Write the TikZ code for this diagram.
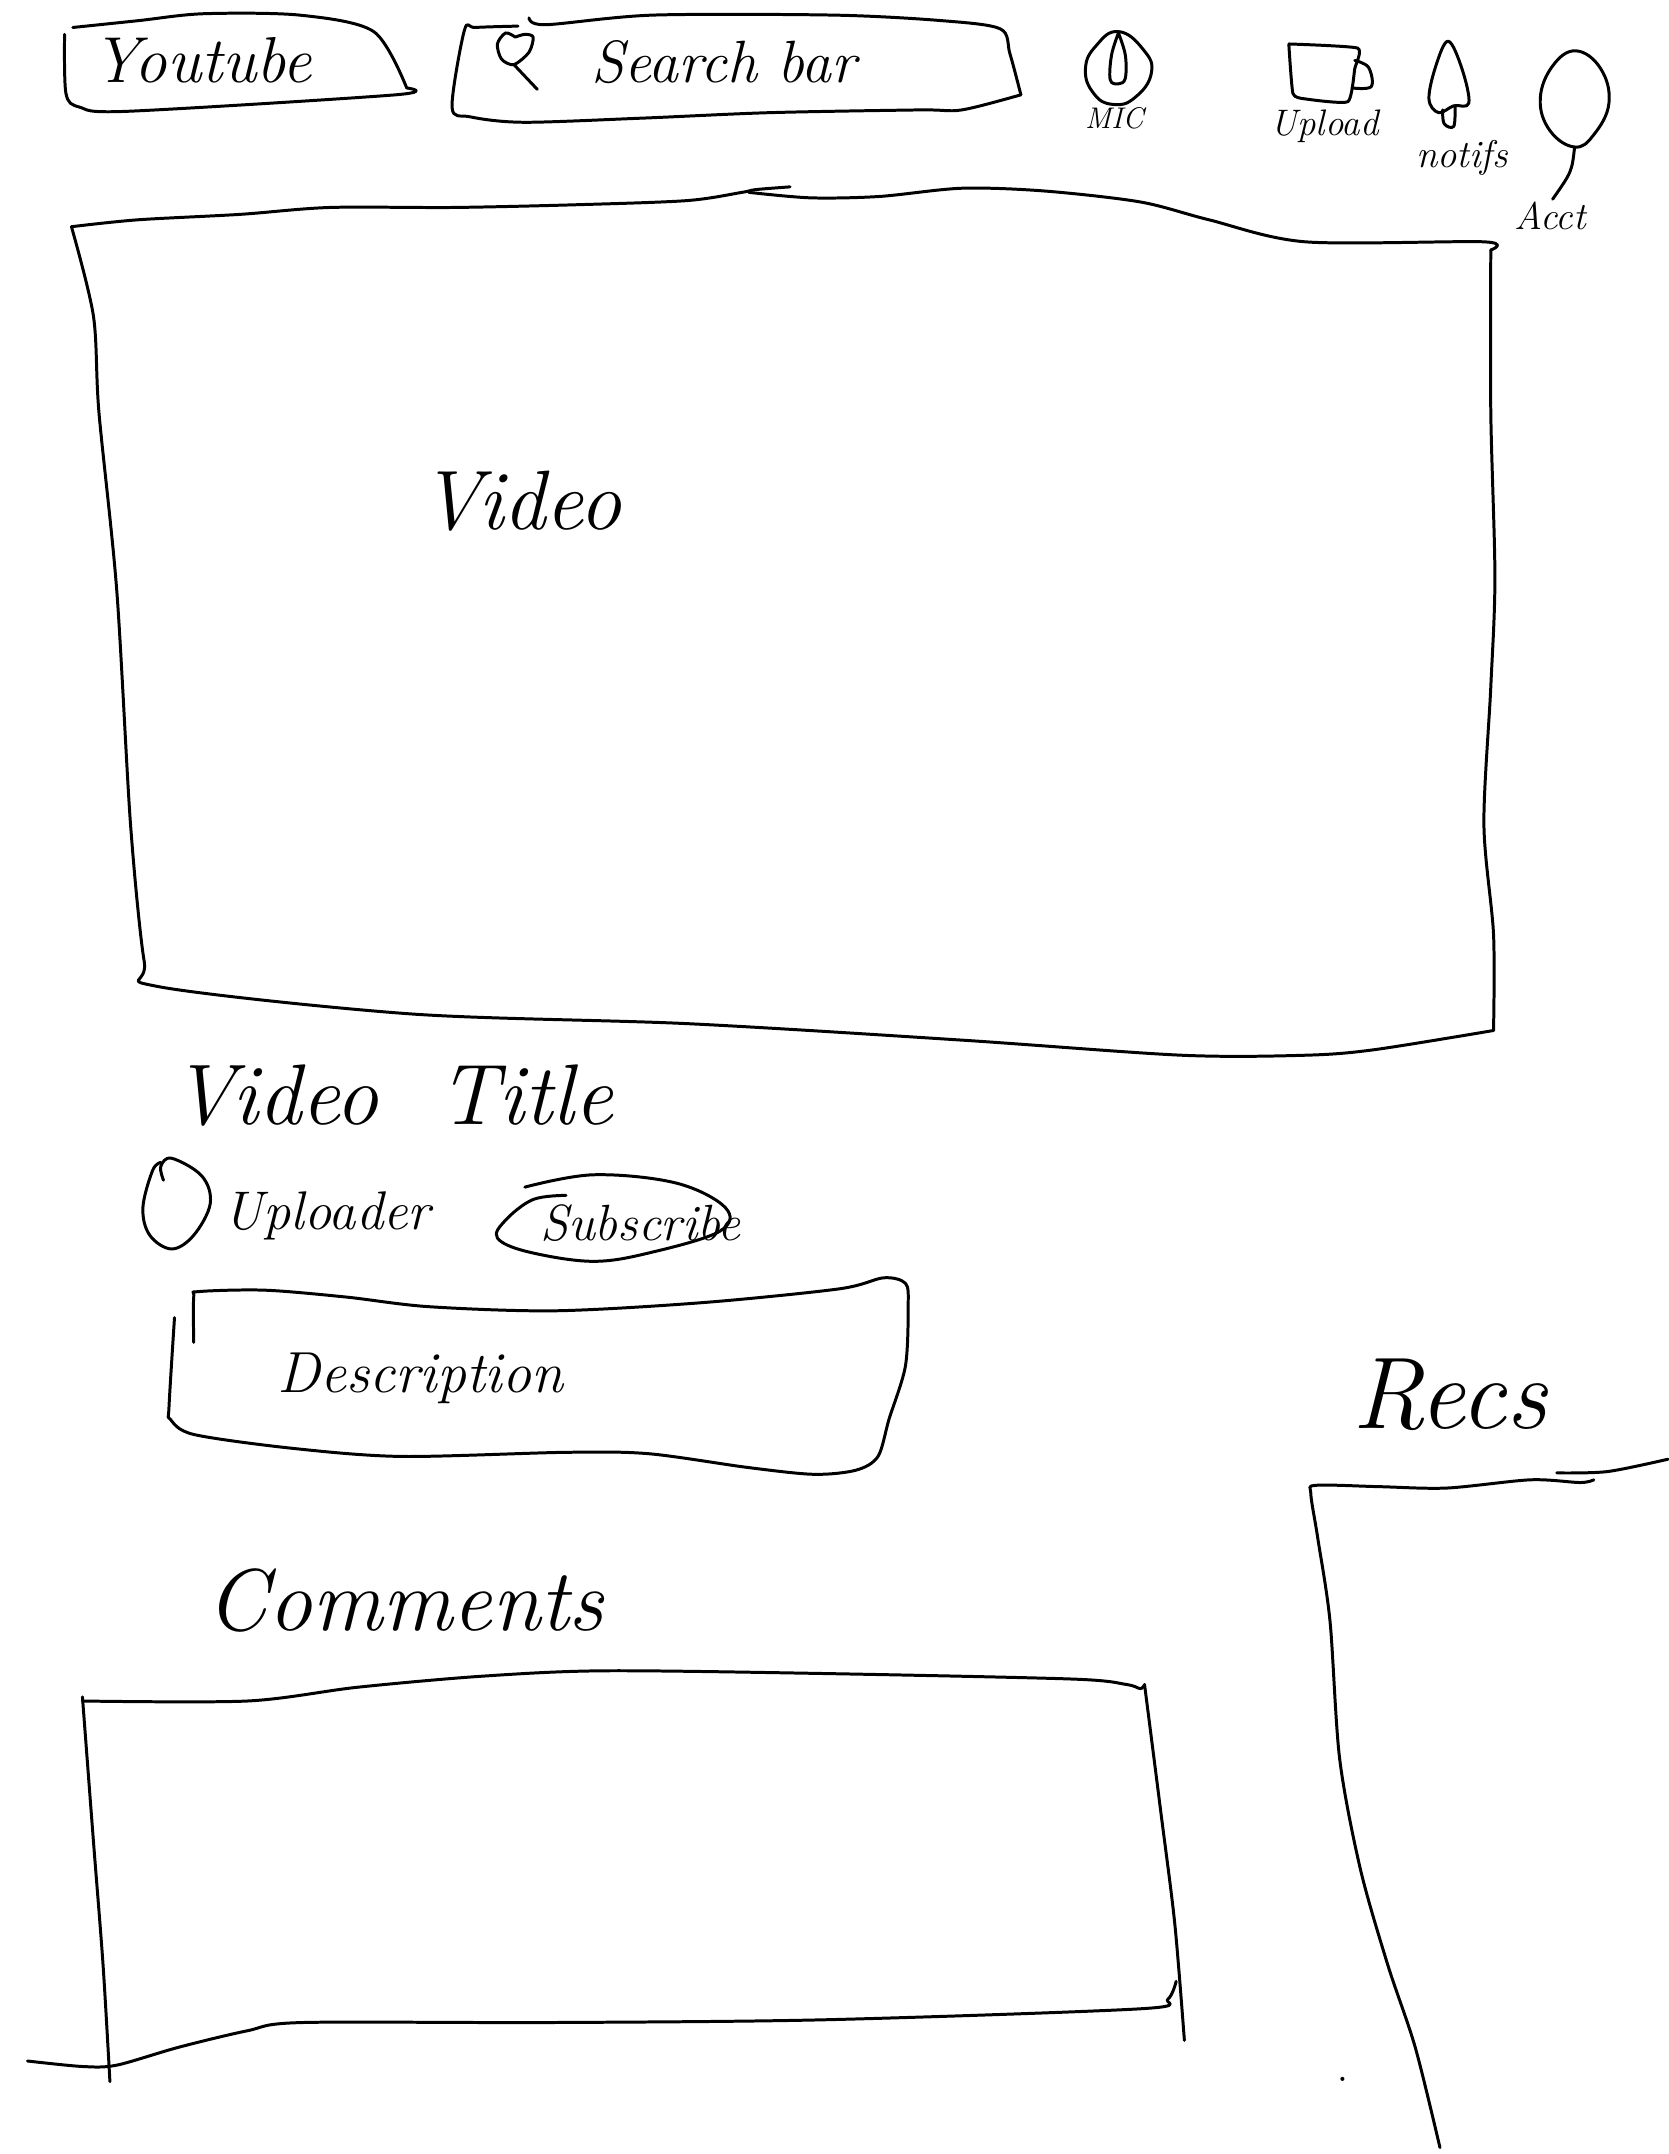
\documentclass[tikz,border=0pt]{standalone}
\tikzset{
  penline/.style={black, line width=1.7pt, line cap=round, line join=round},
  hand/.style={inner sep=0pt, font=\fontsize{#1}{#1}\selectfont\itshape}
}
\begin{document}
\begin{tikzpicture}[x=0.0275cm, y=-0.0275cm]
\useasboundingbox (0,0) rectangle (1214,1567.7);
\draw [penline] plot [smooth, tension=0.5] coordinates {(53,20) (101,15) (148,10) (218,11) (272,23) (296,64)};
\draw [penline] plot [smooth, tension=0.5] coordinates {(296,64) (288,69) (93,81) (58,78) (48,68) (47,25)};
\node [hand=37] (logo) at (147,44) {Youtube};
\draw [penline] plot [smooth, tension=0.5] coordinates {(385,13) (397,18) (475,11) (607,11) (685,15) (728,21) (735,39) (743,69)};
\draw [penline] plot [smooth, tension=0.5] coordinates {(743,69) (700,80) (669,80) (560,82) (467,86) (381,89) (342,85) (329,78) (338,22) (346,20) (377,19)};
\draw [penline] plot [smooth, tension=0.5] coordinates {(375,27) (368,24) (362,32) (365,43) (374,47) (385,38) (388,27) (382,25) (375,27)};
\draw [penline] (374,47) -- (391,65);
\node [hand=34] (searchbar) at (527,45) {Search bar};
\draw [penline] plot [smooth cycle, tension=0.8] coordinates {(814,23) (832,36) (838,53) (826,71) (810,76) (796,68) (790,50) (798,33)};
\draw [penline] plot [smooth, tension=0.6] coordinates {(814,24) (809,40) (808,58) (814,61) (819,57) (819,40) (814,24)};
\node [hand=17] (mic) at (811,86) {MIC};
\draw [penline] plot [smooth, tension=0.3] coordinates {(938,32) (988,35) (986,50) (981,74) (950,72) (941,68) (938,32)};
\draw [penline] plot [smooth, tension=0.6] coordinates {(986,44) (996,49) (998,63) (984,64)};
\node [hand=21] (upload) at (964,92) {Upload};
\draw [penline] plot [smooth cycle, tension=0.6] coordinates {(1054,30) (1064,50) (1069,75) (1058,77) (1047,82) (1040,72) (1045,48)};
\draw [penline] plot [smooth, tension=0.6] coordinates {(1050,80) (1051,90) (1058,92) (1059,78)};
\node [hand=22] (notifs) at (1064,115) {notifs};
\draw [penline] plot [smooth cycle, tension=0.7] coordinates {(1147,37) (1165,50) (1171,75) (1160,98) (1146,107) (1128,95) (1121,72) (1130,48)};
\coordinate (acctend) at (1130,145);
\draw [penline] (1146,107) .. controls (1144,125) .. (acctend);
\node [hand=22] (acct) at (1128,157) {Acct};
\draw [penline] plot [smooth, tension=0.5] coordinates {(575,136) (550,138) (540,140) (500,146) (420,149) (330,151) (240,151) (175,156) (100,160) (52,165)};
\draw [penline] plot [smooth, tension=0.5] coordinates {(52,165) (68,230) (72,300) (85,430) (95,600) (105,700) (115,718) (300,738) (500,745) (700,757) (860,768) (950,768) (1000,764) (1087,750)};
\draw [penline] plot [smooth, tension=0.5] coordinates {(1087,750) (1087,680) (1080,600) (1085,500) (1088,420) (1085,300) (1085,182)};
\draw [penline] plot [smooth, tension=0.5] coordinates {(1085,182) (1080,176) (950,176) (880,160) (830,147) (760,139) (700,137) (640,143) (590,144) (545,140)};
\node [hand=48] (video) at (379,365) {Video};
\node [hand=49] (videotitle) at (286,797) {Video\hspace{0.7em}Title};
\draw [penline] plot [smooth, tension=0.6] coordinates {(119,859) (117,849) (125,843) (147,856) (153,876) (141,899) (125,909) (109,899) (104,879) (111,852) (117,846)};
\node [hand=31] (uploader) at (238,885) {Uploader};
\draw [penline] plot [smooth, tension=0.6] coordinates {(382,864) (432,855) (492,861) (528,879) (524,896) (476,911) (432,918) (384,911) (362,901) (368,888) (388,873) (412,870)};
\node [hand=29] (subscribe) at (466,890) {Subscribe};
\draw [penline] plot [smooth, tension=0.5] coordinates {(141,977) (141,944) (145,940) (193,939) (252,944) (312,951) (404,954) (512,948) (611,938) (643,930) (659,934) (661,950) (659,994) (647,1033) (639,1060) (623,1070) (592,1073) (544,1068) (472,1058) (412,1057) (292,1060) (212,1054) (141,1044) (124,1033) (123,1024) (127,959)};
\node [hand=33] (description) at (306,1003) {Description};
\node [hand=50] (comments) at (295,1165) {Comments};
\draw [penline] plot [smooth, tension=0.5] coordinates {(60,1238) (180,1238) (260,1228) (350,1220) (440,1216) (600,1218) (780,1222) (820,1226) (830,1229) (833,1226)};
\draw [penline] plot [smooth, tension=0.5] coordinates {(833,1226) (845,1320) (855,1400) (862,1485)};
\draw [penline] plot [smooth, tension=0.5] coordinates {(856,1442) (850,1455) (830,1462) (600,1470) (400,1472) (220,1472) (180,1478) (130,1490) (85,1503) (60,1504) (20,1500)};
\draw [penline] plot [smooth, tension=0.5] coordinates {(60,1235) (68,1340) (75,1430) (80,1515)};
\node [hand=58] (recs) at (1055,1015) {Recs};
\draw [penline] plot [smooth, tension=0.5] coordinates {(1160,1077) (1150,1079) (1114,1077) (1053,1083) (1004,1082) (958,1081) (954,1087) (959,1119) (968,1180) (975,1280) (990,1360) (1010,1430) (1030,1490) (1048,1563)};
\draw [penline] plot [smooth, tension=0.5] coordinates {(1133,1072) (1170,1071) (1214,1062)};
\fill [black] (977,1513) circle (1.5);
\end{tikzpicture}
\end{document}
